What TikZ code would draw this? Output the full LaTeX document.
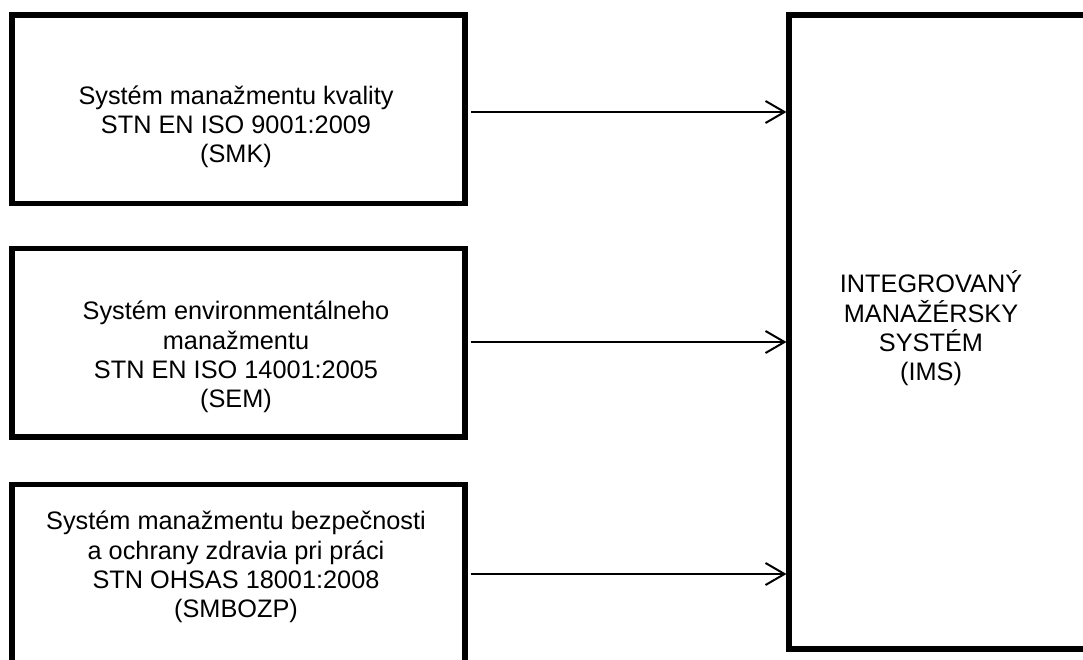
\documentclass[tikz,border=0pt]{standalone}
\usepackage{fontspec}
\setmainfont{Liberation Sans}
\usetikzlibrary{arrows.meta}
\begin{document}
\begin{tikzpicture}[x=1pt,y=-1pt,
  box/.style={draw=black, line width=5.5pt, inner sep=0pt, outer sep=0pt, minimum width=453pt, minimum height=188.5pt},
  lbl/.style={align=center, font=\fontsize{25.3}{29.3}\selectfont, inner sep=0pt},
  arr/.style={line width=2pt, shorten <=6pt, shorten >=2.5pt, -{Straight Barb[length=19pt,width=22pt,line width=2pt]}}]
\useasboundingbox (0,0) rectangle (1083,660);
\clip (0,0) rectangle (1083,660);
\node[box] (b1) at (238.5,109.25) {};
\node[box] (b2) at (238.5,342.5) {};
\node[box] (b3) at (238.5,578.75) {};
\node[box, minimum width=301pt, minimum height=634pt] (ims) at (939.5,332) {};
\node[lbl] (t1) at (236,127) {Systém manažmentu kvality\\STN EN ISO 9001:2009\\(SMK)};
\node[lbl] (t2) at (236,357) {Systém environmentálneho\\manažmentu\\STN EN ISO 14001:2005\\(SEM)};
\node[lbl] (t3) at (236,567) {Systém manažmentu bezpečnosti\\a ochrany zdravia pri práci\\STN OHSAS 18001:2008\\(SMBOZP)};
\node[lbl] (t4) at (931,328.5) {INTEGROVANÝ\\MANAŽÉRSKY\\SYSTÉM\\(IMS)};
\coordinate (y1) at (0,112);
\coordinate (y2) at (0,342);
\coordinate (y3) at (0,574);
\draw[arr] (b1.east |- y1) -- (ims.west |- y1);
\draw[arr] (b2.east |- y2) -- (ims.west |- y2);
\draw[arr] (b3.east |- y3) -- (ims.west |- y3);
\end{tikzpicture}
\end{document}
